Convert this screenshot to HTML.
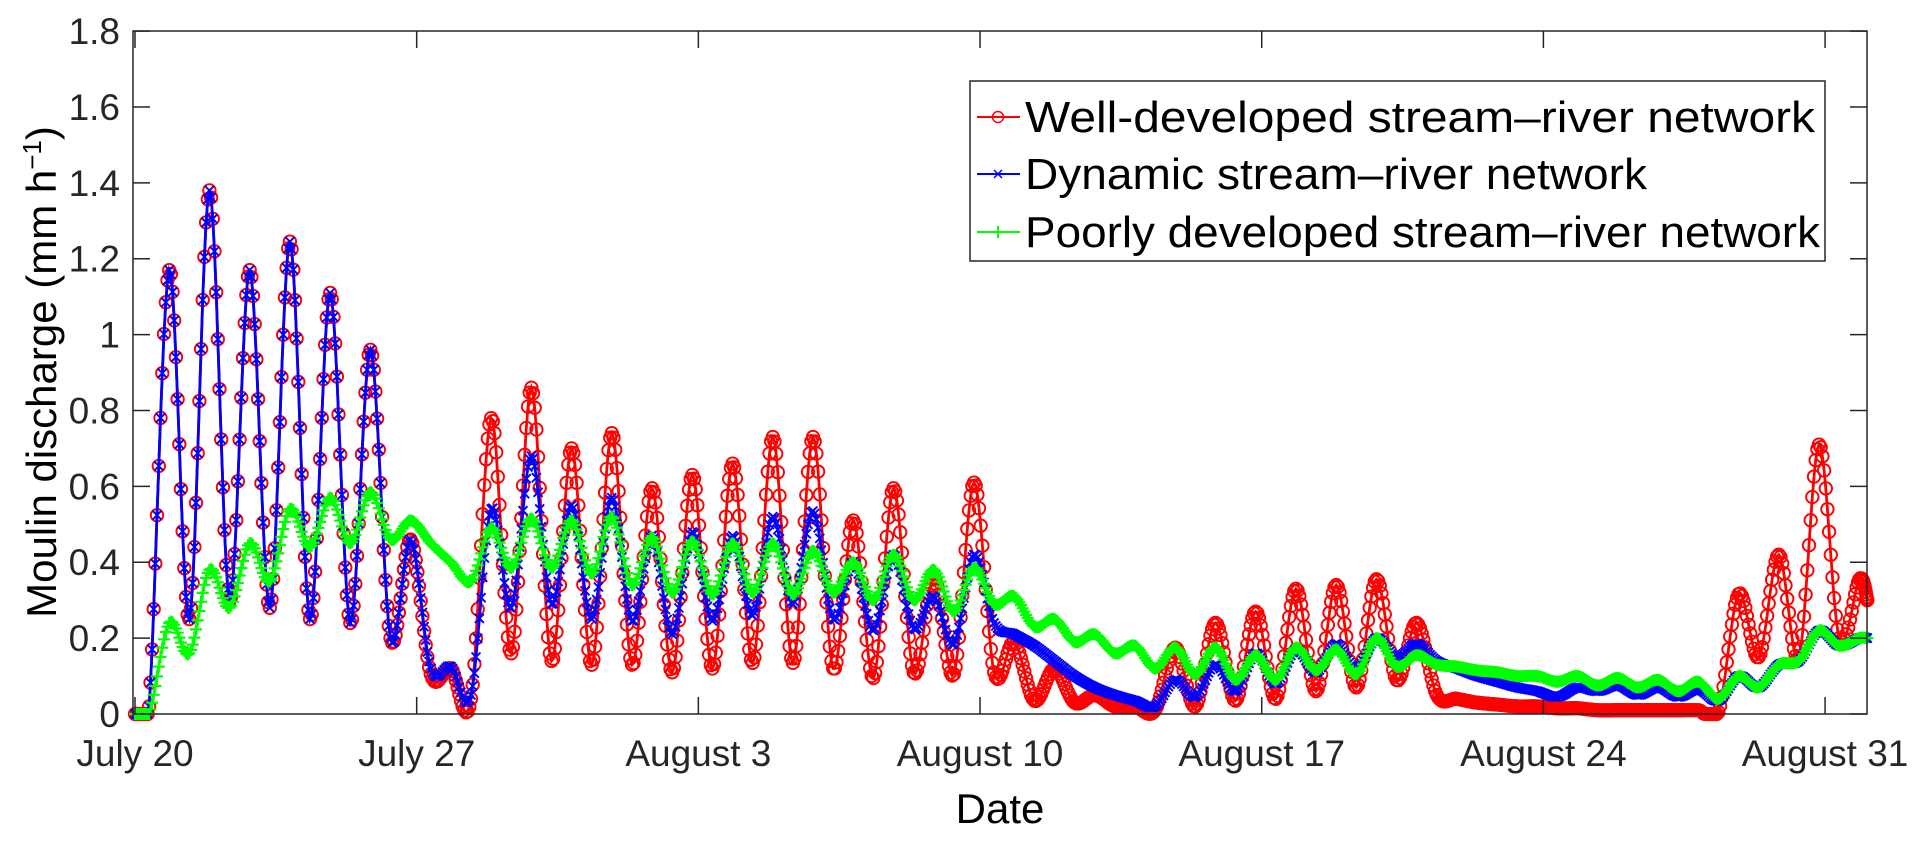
<!DOCTYPE html>
<html><head><meta charset="utf-8"><style>
html,body{margin:0;padding:0;background:#fff;}
svg{display:block;font-family:"Liberation Sans",Arial,sans-serif;}
</style></head><body>
<svg id="chart" width="1930" height="841" viewBox="0 0 1930 841" xmlns="http://www.w3.org/2000/svg">
<rect width="1930" height="841" fill="#fff"/>
<g id="series"></g>
<rect x="133" y="31" width="1734" height="683" fill="none" stroke="#262626" stroke-width="1.5"/>
<g id="axes"></g>
<text x="0" y="0" font-size="42" text-anchor="middle" transform="translate(56,372) rotate(-90)" fill="#000">Moulin discharge (mm h<tspan baseline-shift="super" font-size="26">−1</tspan>)</text>
<text x="1000" y="823" font-size="42" text-anchor="middle" fill="#000">Date</text>
<g>
<rect x="970" y="81" width="855" height="180" fill="#fff" stroke="#262626" stroke-width="1.5"/>
<line x1="977" y1="117" x2="1020" y2="117" stroke="#f00" stroke-width="2"/>
<circle cx="998" cy="117" r="5.5" fill="none" stroke="#f00" stroke-width="1.5"/>
<text x="1025" y="132" font-size="44" textLength="790" lengthAdjust="spacingAndGlyphs" fill="#000">Well-developed stream–river network</text>
<line x1="977" y1="174" x2="1020" y2="174" stroke="#00f" stroke-width="2"/>
<path d="M994,170 L1002,178 M1002,170 L994,178" stroke="#00f" stroke-width="1.5"/>
<text x="1025" y="189" font-size="44" textLength="622" lengthAdjust="spacingAndGlyphs" fill="#000">Dynamic stream–river network</text>
<line x1="977" y1="232" x2="1020" y2="232" stroke="#0f0" stroke-width="2"/>
<path d="M998,226 L998,238 M992,232 L1004,232" stroke="#0f0" stroke-width="2"/>
<text x="1025" y="247" font-size="44" textLength="795" lengthAdjust="spacingAndGlyphs" fill="#000">Poorly developed stream–river network</text>
</g>
</svg>
<script>
// ---- data (daily trough at day+0.35, daily peak at day+0.85), days 0..42 from July 20 ----
const yTicks = [0, 0.2, 0.4, 0.6, 0.8, 1, 1.2, 1.4, 1.6, 1.8];
const yTickLabels = ["0","0.2","0.4","0.6","0.8","1","1.2","1.4","1.6","1.8"];
const xTickDays = [0, 7, 14, 21, 28, 35, 42];
const xTickLabels = ["July 20","July 27","August 3","August 10","August 17","August 24","August 31"];

const redTroughs = [0.02,0.25,0.30,0.28,0.25,0.24,0.20,0.105,0.04,0.16,0.14,0.13,0.13,0.11,0.12,0.135,0.135,0.12,0.095,0.11,0.105,0.11,0.035,0.03,0.02,0.01,0.02,0.035,0.04,0.06,0.07,0.09,0.05,0.03,0.02,0.015,0.01,0.01,0.01,0.005,0.15,0.15,0.2];
const redPeaks = [1.17,1.38,1.17,1.245,1.11,0.96,0.46,0.12,0.78,0.86,0.70,0.74,0.595,0.63,0.66,0.73,0.73,0.51,0.595,0.36,0.61,0.19,0.12,0.05,0.02,0.175,0.24,0.27,0.33,0.34,0.355,0.24,0.04,0.025,0.02,0.015,0.01,0.01,0.01,0.316,0.42,0.71,0.355];
const redEnd = 0.3;

const blueTroughs = [0.02,0.25,0.30,0.28,0.25,0.24,0.20,0.12,0.05,0.28,0.29,0.25,0.245,0.21,0.245,0.26,0.29,0.25,0.22,0.225,0.185,0.24,0.18,0.10,0.05,0.02,0.045,0.06,0.08,0.11,0.12,0.15,0.14,0.10,0.07,0.045,0.06,0.05,0.045,0.035,0.07,0.14,0.18];
const bluePeaks = [1.17,1.38,1.17,1.245,1.11,0.96,0.46,0.125,0.54,0.68,0.55,0.57,0.47,0.48,0.47,0.52,0.535,0.40,0.42,0.31,0.42,0.21,0.14,0.07,0.035,0.09,0.13,0.16,0.17,0.185,0.2,0.185,0.12,0.085,0.06,0.07,0.075,0.07,0.065,0.1,0.13,0.22,0.2];
const blueEnd = 0.2;

const greenTroughs = [0.0,0.16,0.28,0.35,0.44,0.45,0.46,0.45,0.35,0.385,0.385,0.37,0.34,0.32,0.315,0.32,0.315,0.32,0.30,0.30,0.27,0.29,0.23,0.19,0.16,0.12,0.105,0.09,0.09,0.115,0.105,0.125,0.13,0.115,0.1,0.085,0.075,0.07,0.06,0.04,0.07,0.14,0.18];
const greenPeaks = [0.24,0.38,0.45,0.54,0.57,0.585,0.51,0.40,0.49,0.515,0.51,0.52,0.465,0.455,0.45,0.45,0.43,0.40,0.42,0.38,0.385,0.31,0.25,0.21,0.18,0.175,0.175,0.155,0.175,0.17,0.2,0.155,0.125,0.11,0.1,0.1,0.095,0.09,0.085,0.1,0.13,0.22,0.2];
const greenEnd = 0.2;

// ---- scales ----
const X0 = 135, PXDAY = 40.24, Y0 = 714, PXUNIT = 379.4;
function xs(d){ return X0 + d * PXDAY; }
function ys(v){ return Y0 - v * PXUNIT; }

const NS = "http://www.w3.org/2000/svg";
const seriesG = document.getElementById("series");
const axesG = document.getElementById("axes");

function knots(tr, pk, endV){
  const k = [[0,0]];
  for (let d = 0; d < tr.length; d++){ k.push([d+0.35, tr[d]]); k.push([d+0.85, pk[d]]); }
  k.push([43.05, endV]);
  return k;
}
function sample(k, n){
  const out = [];
  for (let i = 0; i < k.length-1; i++){
    const p0 = k[Math.max(0,i-1)], p1 = k[i], p2 = k[i+1], p3 = k[Math.min(k.length-1,i+2)];
    for (let j = 0; j < n; j++){
      const t = j/n, t2=t*t, t3=t2*t;
      const f = (a,b,c,d)=>0.5*((2*b)+(-a+c)*t+(2*a-5*b+4*c-d)*t2+(-a+3*b-3*c+d)*t3);
      out.push([f(p0[0],p1[0],p2[0],p3[0]), Math.max(0,f(p0[1],p1[1],p2[1],p3[1]))]);
    }
  }
  const l = k[k.length-1]; out.push([l[0], l[1]]);
  return out;
}
function drawSeries(name, tr, pk, endV, color, kind){
  const g = document.createElementNS(NS,"g");
  
  
  seriesG.appendChild(g);
  const pts = sample(knots(tr,pk,endV), 12);
  const line = document.createElementNS(NS,"polyline");
  line.setAttribute("points", pts.map(p=>xs(p[0]).toFixed(1)+","+ys(p[1]).toFixed(1)).join(" "));
  line.setAttribute("fill","none"); line.setAttribute("stroke",color); line.setAttribute("stroke-width","2.8");
  
  
  g.appendChild(line);
  let d = "";
  for (const p of pts){
    const x = xs(p[0]), y = ys(p[1]);
    if (kind === "o") d += `M${(x-6.2).toFixed(1)},${y.toFixed(1)}a6.2,6.2 0 1,0 12.4,0a6.2,6.2 0 1,0 -12.4,0`;
    else if (kind === "x") d += `M${(x-4.5).toFixed(1)},${(y-4.5).toFixed(1)}l9,9M${(x+4.5).toFixed(1)},${(y-4.5).toFixed(1)}l-9,9`;
    else d += `M${(x-6).toFixed(1)},${y.toFixed(1)}h12M${x.toFixed(1)},${(y-6).toFixed(1)}v12`;
  }
  const m = document.createElementNS(NS,"path");
  m.setAttribute("d", d); m.setAttribute("fill","none"); m.setAttribute("stroke",color);
  m.setAttribute("stroke-width", kind === "+" ? "2.2" : "1.9");
  
  
  g.appendChild(m);
}
drawSeries("well-developed", redTroughs, redPeaks, redEnd, "#ff0000", "o");
drawSeries("dynamic", blueTroughs, bluePeaks, blueEnd, "#0000ff", "x");
drawSeries("poorly-developed", greenTroughs, greenPeaks, greenEnd, "#00ff00", "+");

// ---- axes ----
yTicks.forEach((v,i)=>{
  const y = ys(v);
  const t = document.createElementNS(NS,"path");
  t.setAttribute("d", `M133,${y}h17M1867,${y}h-17`);
  t.setAttribute("stroke","#262626"); t.setAttribute("stroke-width","1.5");
  
  
  axesG.appendChild(t);
  const l = document.createElementNS(NS,"text");
  l.setAttribute("x","120"); l.setAttribute("y", y+13); l.setAttribute("font-size","37");
  l.setAttribute("text-anchor","end"); l.setAttribute("fill","#262626");
  l.textContent = yTickLabels[i];
  
  
  axesG.appendChild(l);
});
xTickDays.forEach((dd,i)=>{
  const x = xs(dd);
  const t = document.createElementNS(NS,"path");
  t.setAttribute("d", `M${x},714v-17M${x},31v17`);
  t.setAttribute("stroke","#262626"); t.setAttribute("stroke-width","1.5");
  
  
  axesG.appendChild(t);
  const l = document.createElementNS(NS,"text");
  l.setAttribute("x", x); l.setAttribute("y","766"); l.setAttribute("font-size","37");
  l.setAttribute("text-anchor","middle"); l.setAttribute("fill","#262626");
  l.textContent = xTickLabels[i];
  
  
  axesG.appendChild(l);
});
</script>
</body></html>
